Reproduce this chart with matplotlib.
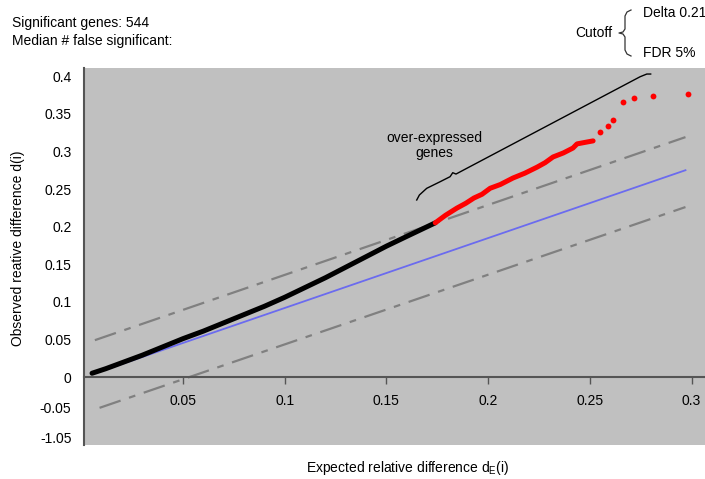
import matplotlib
matplotlib.use("Agg")
import matplotlib.pyplot as plt
import numpy as np

plt.rcParams['font.family'] = ['Liberation Sans', 'DejaVu Sans']

# non-significant genes (black)
black_x = [0.0053, 0.012, 0.02, 0.03, 0.04, 0.05, 0.06, 0.07, 0.08, 0.09,
           0.10, 0.11, 0.12, 0.13, 0.14, 0.15, 0.16, 0.174]
black_y = [0.005, 0.011, 0.019, 0.029, 0.040, 0.051, 0.061, 0.072, 0.083, 0.094,
           0.106, 0.119, 0.132, 0.146, 0.160, 0.174, 0.187, 0.205]

# significant over-expressed genes (red), dense part and the few outliers
red_x = [0.174, 0.179, 0.1847, 0.189, 0.193, 0.197, 0.201, 0.206, 0.2122, 0.218,
         0.224, 0.228, 0.2319, 0.237, 0.2417, 0.2437, 0.2476, 0.2516]
red_y = [0.205, 0.215, 0.2247, 0.231, 0.238, 0.243, 0.251, 0.256, 0.2646, 0.271,
         0.279, 0.285, 0.2926, 0.298, 0.3045, 0.31, 0.312, 0.314]
red_tail_x = [0.255, 0.259, 0.2614, 0.2663, 0.2717, 0.281, 0.2983]
red_tail_y = [0.326, 0.334, 0.342, 0.366, 0.371, 0.374, 0.376]

# reference lines (start, end)
line_x = [0.0067, 0.297]
mid_y = [0.005, 0.275]
upper_y = [0.049, 0.319]
lower_x = [0.009, 0.297]
lower_y = [-0.041, 0.226]

# brace over the significant genes
brace_x = [0.1649, 0.1662, 0.1698, 0.1764, 0.1813, 0.1826, 0.1842, 0.1895, 0.2747, 0.2780, 0.2799]
brace_y = [0.2354, 0.2420, 0.2509, 0.2597, 0.2664, 0.2717, 0.2699, 0.2775, 0.3993, 0.4029, 0.4029]

xticks = [0.05, 0.1, 0.15, 0.2, 0.25, 0.3]
xtick_labels = ['0.05', '0.1', '0.15', '0.2', '0.25', '0.3']
yticks = [0.4, 0.35, 0.3, 0.25, 0.2, 0.15, 0.1, 0.05, 0.0, -0.041, -0.081]
ytick_labels = ['0.4', '0.35', '0.3', '0.25', '0.2', '0.15', '0.1', '0.05', '0', '-0.05', '-1.05']

fs = 10

fig = plt.figure(figsize=(7.05, 4.79), dpi=100)
ax = fig.add_axes([0.119, 0.071, 0.881, 0.787])
ax.set_facecolor('#c0c0c0')

ax.plot(line_x, upper_y, color='#808080', lw=1.6, dashes=(10, 4, 3, 4))
ax.plot(lower_x, lower_y, color='#808080', lw=1.6, dashes=(10, 4, 3, 4))
ax.plot(line_x, mid_y, color='#6b6bef', lw=1.3)

ax.plot(black_x, black_y, color='black', lw=3.6, solid_capstyle='round', solid_joinstyle='round')
ax.plot(red_x, red_y, color='#ff0000', lw=3.6, solid_capstyle='round', solid_joinstyle='round')
ax.plot(red_tail_x, red_tail_y, 'o', color='#ff0000', ms=4.2, mec='none')

ax.plot(brace_x, brace_y, color='black', lw=1.0)
ax.text(0.1734, 0.308, 'over-expressed\ngenes', ha='center', va='center', fontsize=fs, linespacing=1.15)

ax.set_xlim(0.0013, 0.3066)
ax.set_ylim(-0.0904, 0.4109)

for s in ['top', 'right']:
    ax.spines[s].set_visible(False)
ax.spines['bottom'].set_position(('data', 0))
ax.spines['bottom'].set_color('#555555')
ax.spines['bottom'].set_linewidth(1.5)
ax.spines['left'].set_color('#555555')
ax.spines['left'].set_linewidth(1.5)

ax.set_xticks(xticks)
ax.set_xticklabels(xtick_labels)
ax.set_yticks(yticks)
ax.set_yticklabels(ytick_labels)
ax.tick_params(axis='x', direction='out', length=5, width=1, color='#555555', pad=7, labelsize=fs)
ax.tick_params(axis='y', length=0, pad=9, labelsize=fs)

fig.text(18 / 705, 1 - 248 / 479, 'Observed reative difference d(i)', rotation=90,
         ha='center', va='center', fontsize=fs)
fig.text(408 / 705, 1 - 468 / 479, r'Expected relative difference d$\mathregular{_E}$(i)',
         ha='center', va='center', fontsize=fs)

fig.text(12 / 705, 1 - 23 / 479, 'Significant genes: 544', ha='left', va='center', fontsize=fs)
fig.text(12 / 705, 1 - 41 / 479, 'Median # false significant:', ha='left', va='center', fontsize=fs)

fig.text(575 / 705, 1 - 33 / 479, 'Cutoff', ha='left', va='center', fontsize=fs)
fig.text(643 / 705, 1 - 13 / 479, 'Delta 0.21', ha='left', va='center', fontsize=fs)
fig.text(643 / 705, 1 - 53 / 479, 'FDR 5%', ha='left', va='center', fontsize=fs)

# thin curly brace next to "Cutoff"
bx = np.array([631, 627, 625, 625, 623, 619, 623, 625, 625, 627, 631])
by = np.array([10, 12, 16, 29, 32, 33, 34, 37, 50, 54, 56])
fig.add_artist(plt.Line2D(bx / 705, 1 - by / 479, color='#333333', lw=0.9, transform=fig.transFigure))

fig.savefig('out.png', dpi=100)
